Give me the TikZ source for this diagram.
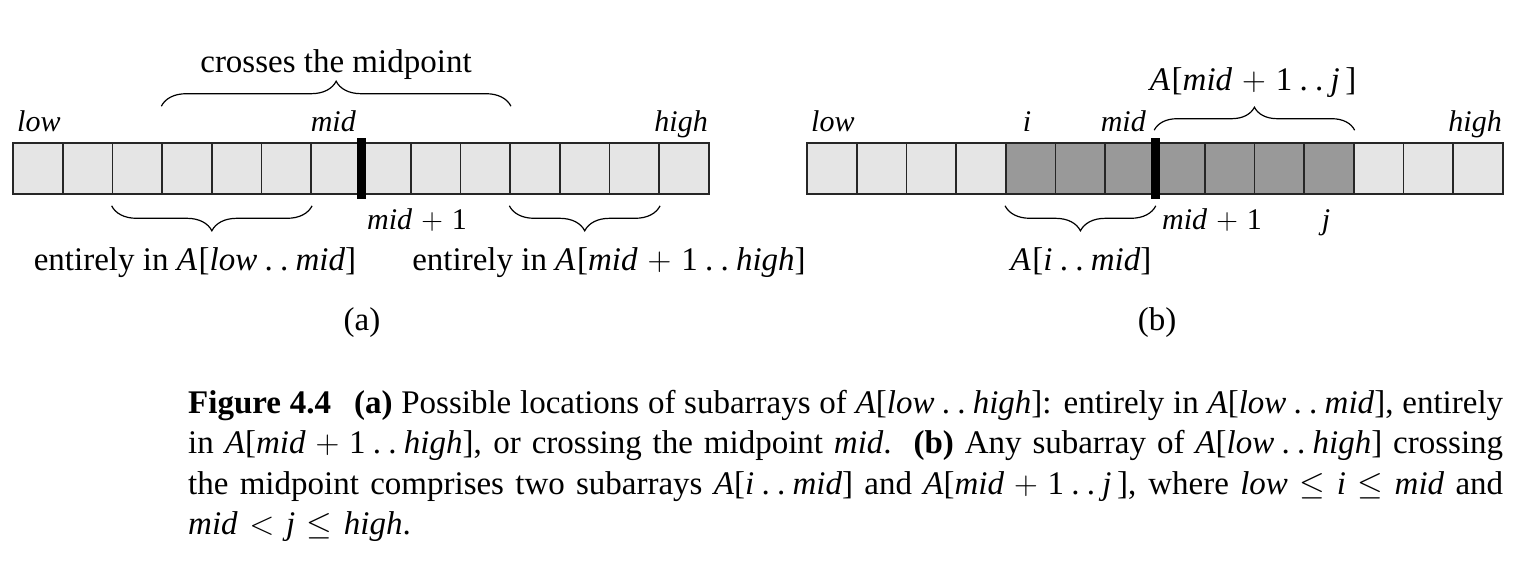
\documentclass[tikz,border=0pt]{standalone}
\usepackage{fix-cm}
\usepackage{fontspec}
\setmainfont{Liberation Serif}
\usetikzlibrary{decorations.pathreplacing}
\newcommand{\var}[1]{\textit{#1}}
\newcommand{\twodots}{\kern0.22em.\kern0.22em.\kern0.22em}
\newcommand{\plus}{\hspace{0.3em}$+$\hspace{0.3em}}
\newcommand{\relop}[1]{\hspace{0.35em}$#1$\hspace{0.35em}}

\begin{document}
\begin{tikzpicture}[
  x=1pt, y=-1pt,
  every node/.style={inner sep=0pt, font=\fontsize{33}{40.5}\selectfont},
  idx/.style={font=\fontsize{30}{36}\selectfont\itshape},
  cell/.style={rectangle, draw=black!85, line width=1.6pt, fill=black!10,
    minimum width=49.71pt, minimum height=51pt},
  subcell/.style={cell, fill=black!40},
  midbar/.style={rectangle, fill=black, minimum width=9pt, minimum height=61pt},
  upbrace/.style={decorate, decoration={brace, amplitude=#1}, line width=1.2pt},
  downbrace/.style={decorate, decoration={brace, mirror, amplitude=#1}, line width=1.2pt}
]
  \useasboundingbox (0,0) rectangle (1532,584);

  % (a)
  \foreach \k in {0,...,13}
    \node[cell] (a\k) at ({37.857+49.714*\k},168.5) {};
  \node[midbar] (bara) at (a6.east) {};

  \node[idx, anchor=base west] (lowa) at (17,131) {low};
  \node[idx, anchor=base east] (mida) at (356,131) {mid};
  \node[idx, anchor=base east] (higha) at (708,131) {high};
  \node[idx, anchor=base west] (midonea) at (367,229) {mid\/\upshape\plus1};

  \draw[upbrace=25pt] ([yshift=36pt]a3.north west) -- ([yshift=36pt]a9.north east);
  \node[anchor=base] (cross) at (336,72) {crosses the midpoint};
  \draw[downbrace=25pt] ([yshift=-11pt]a2.south west) -- ([yshift=-11pt]a5.south east);
  \node[anchor=base] (lefta) at (195,270) {entirely in \var{A}\kern0.05em[\var{low}\twodots\var{mid}]};
  \draw[downbrace=25pt] ([yshift=-11pt]a10.south west) -- ([yshift=-11pt]a12.south east);
  \node[anchor=base] (righta) at (609,270) {entirely in \var{A}\kern0.05em[\var{mid}\plus1\twodots\var{high}]};
  \node[anchor=base] (capa) at (362,330) {(a)};

  % (b)
  \foreach \k in {0,...,3,11,12,13}
    \node[cell] (b\k) at ({831.857+49.714*\k},168.5) {};
  \foreach \k in {4,...,10}
    \node[subcell] (b\k) at ({831.857+49.714*\k},168.5) {};
  \node[midbar] (barb) at (b6.east) {};

  \node[idx, anchor=base west] (lowb) at (811,131) {low};
  \node[idx, anchor=base] (ib) at (1027,131) {i};
  \node[idx, anchor=base east] (midb) at (1146,131) {mid};
  \node[idx, anchor=base east] (highb) at (1502,131) {high};
  \node[idx, anchor=base west] (midoneb) at (1162,229) {mid\/\upshape\plus1};
  \node[idx, anchor=base] (jb) at (1326,229) {j};

  \draw[upbrace=23pt] ([yshift=12pt]b7.north west) -- ([yshift=12pt]b10.north east);
  \node[anchor=base] (rightb) at (1253,90) {\var{A}\kern0.05em[\var{mid}\plus1\twodots\var{j}\,]};
  \draw[downbrace=25pt] ([yshift=-11pt]b4.south west) -- ([yshift=-11pt]b6.south east);
  \node[anchor=base] (leftb) at (1081,270) {\var{A}\kern0.05em[\var{i}\twodots\var{mid}]};
  \node[anchor=base] (capb) at (1157,330) {(b)};

  % caption
  \node[anchor=north west, text width=1315pt, align=justify] (caption) at (188,384.6) {\strut
    \textbf{Figure 4.4}\hspace{0.7em}\textbf{(a)} Possible locations of subarrays of
    \var{A}[\var{low}\twodots\var{high}]: entirely in \var{A}[\var{low}\twodots\var{mid}], entirely\linebreak
    in \var{A}[\var{mid}\plus1\twodots\var{high}], or crossing the midpoint \var{mid}.\ \ \textbf{(b)} Any
    subarray of \var{A}[\var{low}\twodots\var{high}] crossing\linebreak
    the midpoint comprises two subarrays \var{A}[\var{i}\twodots\var{mid}] and
    \var{A}[\var{mid}\plus1\twodots\var{j}\,], where \var{low}\relop{\le}\var{i}\relop{\le}\var{mid} and\linebreak
    \var{mid}\relop{<}\var{j}\relop{\le}\var{high}.};
\end{tikzpicture}
\end{document}
